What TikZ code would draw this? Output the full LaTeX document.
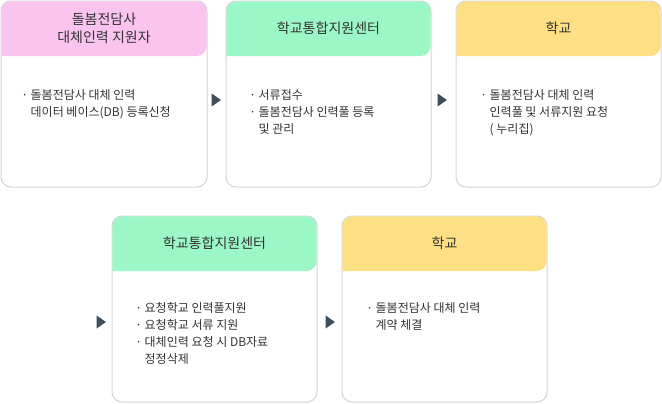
\documentclass[tikz,border=0pt]{standalone}
\usepackage{fontspec}
\setmainfont{Noto Sans CJK KR}
\usetikzlibrary{positioning,shapes.geometric}
\definecolor{hpink}{HTML}{FAC4EE}
\definecolor{hgreen}{HTML}{9CF7C6}
\definecolor{hyellow}{HTML}{FEE084}
\definecolor{boxline}{HTML}{D4D4D4}
\definecolor{arrowc}{HTML}{3E4E5A}
\definecolor{txt}{HTML}{333333}
\tikzset{
  box/.style={draw=boxline, line width=0.75pt, rounded corners=7.5pt, fill=white},
  title/.style={font=\fontsize{10.5}{13.5}\selectfont, text=txt, align=center},
  body/.style={font=\fontsize{9}{12.75}\selectfont, text=txt, align=left, anchor=north west, inner sep=0pt},
  tri/.style={isosceles triangle, isosceles triangle apex angle=70, fill=arrowc, inner sep=0pt, minimum height=7pt, minimum width=9pt}
}
\newcommand{\hd}[5]{% x0 y0 x1 y1 colour: header with rounded top
  \fill[#5, rounded corners=7.5pt] (#1,#4) -- (#1,#2) -- (#3,#2) -- (#3,#4) [sharp corners] -- cycle;
}
\begin{document}
\begin{tikzpicture}[x=0.75pt,y=-0.75pt]
  \useasboundingbox (0,0) rectangle (662,404);
  % boxes
  \draw[box] (1,1) rectangle (207,187);
  \draw[box] (226,1) rectangle (431,187);
  \draw[box] (456,1) rectangle (661,187);
  \draw[box] (112,216) rectangle (317,402);
  \draw[box] (342,216) rectangle (547,402);
  % headers
  \hd{1.4}{1.4}{206.6}{56}{hpink}
  \hd{226.4}{1.4}{430.6}{56}{hgreen}
  \hd{456.4}{1.4}{660.6}{56}{hyellow}
  \hd{112.4}{216.4}{316.6}{271}{hgreen}
  \hd{342.4}{216.4}{546.6}{271}{hyellow}
  % titles
  \node[title] (t1) at (104,28.5) {돌봄전담사\\대체인력 지원자};
  \node[title] (t2) at (328.5,28.5) {학교통합지원센터};
  \node[title] (t3) at (558.5,28.5) {학교};
  \node[title] (t4) at (214.5,243.5) {학교통합지원센터};
  \node[title] (t5) at (444.5,243.5) {학교};
  % texts
  \node[body] (b1) at (21,89) {· 돌봄전담사 대체 인력\\\phantom{· }데이터 베이스(DB) 등록신청};
  \node[body] (b2) at (249,89) {· 서류접수\\· 돌봄전담사 인력풀 등록\\\phantom{· }및 관리};
  \node[body] (b3) at (480,89) {· 돌봄전담사 대체 인력\\\phantom{· }인력풀 및 서류지원 요청\\\phantom{· }( 누리집)};
  \node[body] (b4) at (135,302) {· 요청학교 인력풀지원\\· 요청학교 서류 지원\\· 대체인력 요청 시 DB자료\\\phantom{· }정정삭제};
  \node[body] (b5) at (366,302) {· 돌봄전담사 대체 인력\\\phantom{· }계약 체결};
  % arrows
  \node[tri] (a1) at (215,100) {};
  \node[tri] (a2) at (441,100) {};
  \node[tri] (a3) at (100,322) {};
  \node[tri] (a4) at (329,322) {};
\end{tikzpicture}
\end{document}
